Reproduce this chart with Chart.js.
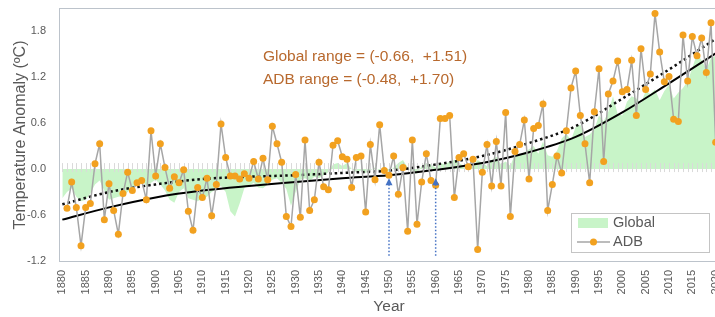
<!DOCTYPE html>
<html>
<head>
<meta charset="utf-8">
<script src="https://cdn.jsdelivr.net/npm/chart.js@4.4.1/dist/chart.umd.min.js"></script>
<style>
  html, body { margin: 0; padding: 0; overflow: hidden; background: #fff; }
  #wrap { width: 722px; height: 317px; position: relative; }
</style>
</head>
<body>
<div id="wrap"><canvas id="grafica"></canvas></div>
<script>
"use strict";

// categorias: un año por categoria (1880 - 2020)
const years = Array.from({ length: 141 }, (_, i) => 1880 + i);

// ADB: anomalia anual (empieza en 1881)
const adb = [
  null,
  -0.51, -0.17, -0.50, -1.00, -0.50, -0.45, 0.07, 0.33, -0.66, -0.19,   // 1881-1890
  -0.54, -0.85, -0.32, -0.04, -0.28, -0.18, -0.15, -0.40, 0.50, -0.09,  // 1891-1900
  0.33, 0.02, -0.25, -0.10, -0.18, -0.01, -0.55, -0.80, -0.24, -0.37,   // 1901-1910
  -0.12, -0.61, -0.20, 0.59, 0.15, -0.09, -0.09, -0.13, -0.06, -0.12,   // 1911-1920
  0.10, -0.13, 0.14, -0.14, 0.56, 0.33, 0.09, -0.62, -0.75, -0.07,      // 1921-1930
  -0.63, 0.38, -0.54, -0.40, 0.09, -0.23, -0.27, 0.31, 0.37, 0.16,      // 1931-1940
  0.13, -0.24, 0.15, 0.17, -0.56, 0.32, -0.14, 0.58, -0.02, -0.08,      // 1941-1950
  0.17, -0.33, 0.02, -0.81, 0.38, -0.72, -0.17, 0.20, -0.15, -0.21,     // 1951-1960
  0.66, 0.66, 0.70, -0.37, 0.15, 0.20, 0.03, 0.13, -1.05, -0.04,        // 1961-1970
  0.32, -0.22, 0.36, -0.22, 0.74, -0.62, 0.23, 0.32, 0.64, -0.13,       // 1971-1980
  0.53, 0.57, 0.85, -0.54, -0.20, 0.17, -0.05, 0.50, 1.06, 1.28,       // 1981-1990
  0.70, 0.33, -0.18, 0.75, 1.31, 0.10, 0.98, 1.15, 1.41, 1.01,          // 1991-2000
  1.04, 1.42, 0.70, 1.57, 1.04, 1.24, 2.03, 1.53, 1.14, 1.21,           // 2001-2010
  0.65, 0.62, 1.75, 1.15, 1.73, 1.48, 1.71, 1.26, 1.91, 0.35            // 2011-2020
];

// Global: area verde
const global = [
  -0.38,                                                                 // 1880
  -0.30, -0.25, -0.36, -0.42, -0.40, -0.32, -0.20, -0.15, -0.28, -0.40,  // 1881-1890
  -0.38, -0.36, -0.35, -0.30, -0.24, -0.20, -0.14, -0.22, -0.18, -0.14,  // 1891-1900
  -0.20, -0.28, -0.40, -0.44, -0.30, -0.25, -0.38, -0.40, -0.42, -0.38,  // 1901-1910
  -0.36, -0.30, -0.26, -0.22, -0.30, -0.55, -0.62, -0.45, -0.25, -0.22,  // 1911-1920
  -0.18, -0.24, -0.25, -0.20, -0.14, -0.12, -0.18, -0.26, -0.48, -0.30,  // 1921-1930
  -0.14, -0.12, -0.16, -0.10, -0.12, -0.08, -0.04, 0.06, 0.08, 0.04,     // 1931-1940
  0.08, 0.00, -0.04, -0.02, -0.05, -0.02, 0.02, -0.02, 0.04, -0.04,      // 1941-1950
  0.02, 0.08, 0.12, 0.02, -0.04, -0.06, 0.04, 0.08, 0.06, 0.02,          // 1951-1960
  0.08, 0.06, 0.10, 0.12, 0.08, 0.04, 0.02, 0.04, 0.12, 0.08,            // 1961-1970
  0.04, 0.12, 0.16, 0.06, 0.10, 0.04, 0.20, 0.18, 0.22, 0.26,            // 1971-1980
  0.30, 0.20, 0.36, 0.18, 0.16, 0.24, 0.40, 0.46, 0.38, 0.55,            // 1981-1990
  0.58, 0.42, 0.45, 0.52, 0.70, 0.62, 0.75, 0.95, 0.72, 0.70,            // 1991-2000
  0.88, 0.95, 0.92, 0.86, 1.02, 0.98, 1.04, 0.90, 1.02, 1.10,            // 2001-2010
  0.92, 1.00, 1.06, 1.15, 1.32, 1.51, 1.42, 1.30, 1.45, 1.48             // 2011-2020
];

// lineas de tendencia (leidas cada 10 años)
const trendYears = [1880, 1890, 1900, 1910, 1920, 1930, 1940, 1950, 1960, 1970, 1980, 1990, 2000, 2010, 2020];
const globalTrend = [-0.66, -0.50, -0.37, -0.28, -0.22, -0.17, -0.12, -0.08, -0.01, 0.08, 0.22, 0.42, 0.74, 1.12, 1.51];
const adbTrend = [-0.46, -0.30, -0.20, -0.13, -0.10, -0.08, -0.05, -0.02, 0.06, 0.17, 0.34, 0.56, 0.92, 1.30, 1.70];

// eje y
const yTicks = [-1.2, -0.6, 0.0, 0.6, 1.2, 1.8];

// flechas azules y textos
const arrowYears = [1950, 1960];
const arrowFrom = -1.13;
const arrowTo = -0.12;
const rangeLines = ["Global range = (-0.66,  +1.51)", "ADB range = (-0.48,  +1.70)"];

const FONT = "'Liberation Sans', Arial, sans-serif";
const GRIS = "#595959";
const NARANJA = "#f2a11f";
const VERDE = "#c8f4c8";

// paso la tendencia a una serie por año (null donde no hay lectura)
function porAnio(vals) {
  return years.map(yr => {
    const k = trendYears.indexOf(yr);
    return k < 0 ? null : vals[k];
  });
}

const extras = {
  id: "extras",
  afterDatasetDraw(chart, args) {
    if (args.index !== 3) return;
    // marcas del eje en y = 0
    const { ctx, scales } = chart;
    const y0 = scales.y.getPixelForValue(0);
    ctx.save();
    ctx.strokeStyle = "#dadada";
    ctx.lineWidth = 1;
    years.forEach((yr, i) => {
      const x = Math.round(scales.x.getPixelForValue(i)) + 0.5;
      ctx.beginPath();
      ctx.moveTo(x, y0 - 6);
      ctx.lineTo(x, y0 + 3);
      ctx.stroke();
    });
    ctx.restore();
  },
  afterDatasetsDraw(chart) {
    const { ctx, scales } = chart;
    ctx.save();
    arrowYears.forEach(yr => {
      const x = scales.x.getPixelForValue(years.indexOf(yr));
      const yb = scales.y.getPixelForValue(arrowFrom);
      const yt = scales.y.getPixelForValue(arrowTo);
      ctx.strokeStyle = "#4472c4";
      ctx.lineWidth = 1.5;
      ctx.setLineDash([1.5, 2]);
      ctx.beginPath();
      ctx.moveTo(x, yb);
      ctx.lineTo(x, yt + 5);
      ctx.stroke();
      ctx.setLineDash([]);
      ctx.fillStyle = "#4472c4";
      ctx.beginPath();
      ctx.moveTo(x, yt);
      ctx.lineTo(x - 3.5, yt + 7);
      ctx.lineTo(x + 3.5, yt + 7);
      ctx.closePath();
      ctx.fill();
    });
    ctx.restore();
  },
  afterDraw(chart) {
    const { ctx, chartArea } = chart;
    ctx.save();
    // borde del area
    ctx.strokeStyle = "#bcc3cb";
    ctx.lineWidth = 1;
    ctx.strokeRect(chartArea.left - 0.5, chartArea.top - 0.5, chartArea.right - chartArea.left + 1, chartArea.bottom - chartArea.top + 1);

    // textos de rango
    ctx.fillStyle = "#b8692e";
    ctx.font = "15.5px " + FONT;
    ctx.textBaseline = "middle";
    ctx.textAlign = "left";
    ctx.fillText(rangeLines[0], 263, 57);
    ctx.fillText(rangeLines[1], 263, 80);

    // leyenda
    ctx.fillStyle = "#fff";
    ctx.fillRect(571, 213, 138, 39);
    ctx.strokeStyle = "#c4c4c4";
    ctx.strokeRect(571.5, 213.5, 138, 39);
    ctx.fillStyle = VERDE;
    ctx.fillRect(578, 218, 30, 10);
    ctx.strokeStyle = "#a6a6a6";
    ctx.lineWidth = 1.5;
    ctx.beginPath();
    ctx.moveTo(577, 242);
    ctx.lineTo(610, 242);
    ctx.stroke();
    ctx.fillStyle = NARANJA;
    ctx.beginPath();
    ctx.arc(593.5, 242, 3.5, 0, Math.PI * 2);
    ctx.fill();
    ctx.fillStyle = GRIS;
    ctx.font = "14.5px " + FONT;
    ctx.fillText("Global", 613, 223);
    ctx.fillText("ADB", 613, 242);
    ctx.restore();
  }
};

const ctx = document.getElementById("grafica").getContext("2d");

new Chart(ctx, {
  type: "line",
  data: {
    labels: years,
    datasets: [
      {
        label: "ADB",
        data: adb,
        borderColor: "#a6a6a6",
        borderWidth: 1.5,
        pointRadius: 3.5,
        pointBackgroundColor: NARANJA,
        pointBorderWidth: 0,
        tension: 0,
        fill: false
      },
      {
        label: "ADB trend",
        data: porAnio(adbTrend),
        borderColor: "#111",
        borderWidth: 2.5,
        borderDash: [2.5, 3],
        pointRadius: 0,
        spanGaps: true,
        tension: 0.4,
        cubicInterpolationMode: "monotone",
        fill: false
      },
      {
        label: "Global trend",
        data: porAnio(globalTrend),
        borderColor: "#000",
        borderWidth: 2,
        pointRadius: 0,
        spanGaps: true,
        tension: 0.4,
        cubicInterpolationMode: "monotone",
        fill: false
      },
      {
        label: "Global",
        data: global,
        borderColor: "rgba(0,0,0,0)",
        borderWidth: 1,
        backgroundColor: VERDE,
        pointRadius: 0,
        tension: 0,
        fill: "origin"
      }
    ]
  },
  options: {
    responsive: true,
    maintainAspectRatio: false,
    animation: false,
    layout: { padding: { top: 9, right: 3, bottom: 0, left: 0 } },
    plugins: { legend: { display: false }, tooltip: { enabled: false } },
    scales: {
      x: {
        type: "category",
        offset: true,
        afterFit: s => {
          s.height = 56;
          s.paddingLeft = 0;
          s.paddingRight = 0;
        },
        grid: { display: false, drawTicks: false },
        border: { display: false },
        ticks: {
          autoSkip: false,
          minRotation: 90,
          maxRotation: 90,
          padding: 9,
          color: GRIS,
          font: { size: 11, family: FONT },
          callback: (v, i) => (years[i] % 5 === 0 ? String(years[i]) : "")
        },
        title: { display: true, text: "Year", color: GRIS, font: { size: 15.5, family: FONT }, padding: { top: 0, bottom: 1 } }
      },
      y: {
        min: -1.2,
        max: 2.09,
        afterBuildTicks: s => { s.ticks = yTicks.map(v => ({ value: v })); },
        afterFit: s => {
          s.width = 60;
          s.paddingTop = 0;
          s.paddingBottom = 0;
        },
        grid: { display: false, drawTicks: false },
        border: { display: false },
        ticks: {
          padding: 14,
          color: GRIS,
          font: { size: 11, family: FONT },
          callback: v => Number(v).toFixed(1)
        },
        title: { display: true, text: "Temperature Anomaly (ºC)", color: GRIS, font: { size: 16, family: FONT }, padding: { top: 11, bottom: 0 } }
      }
    }
  },
  plugins: [extras]
});
</script>
</body>
</html>
